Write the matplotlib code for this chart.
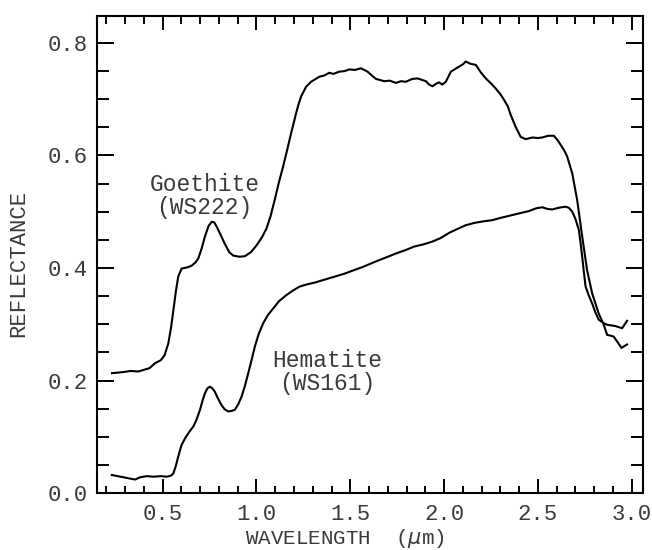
import matplotlib
matplotlib.use("Agg")
import matplotlib.pyplot as plt
from matplotlib.ticker import MultipleLocator

FONT = "Liberation Mono"
TXT = "#3a3a3a"

# goethite (WS222) spectrum
goethite_wl = [0.23, 0.29, 0.33, 0.37, 0.40, 0.43, 0.46, 0.49, 0.51, 0.53, 0.545, 0.557,
               0.57, 0.583, 0.601, 0.63, 0.654, 0.675, 0.69, 0.708, 0.725, 0.745, 0.761,
               0.775, 0.787, 0.81, 0.831, 0.855, 0.876, 0.91, 0.938, 0.97, 1.0, 1.03, 1.053,
               1.075, 1.097, 1.12, 1.14, 1.165, 1.184, 1.2, 1.211, 1.225, 1.238, 1.264,
               1.291, 1.335, 1.36, 1.388, 1.41, 1.441, 1.47, 1.495, 1.525, 1.557, 1.592,
               1.615, 1.637, 1.66, 1.681, 1.71, 1.743, 1.77, 1.796, 1.83, 1.858, 1.885,
               1.903, 1.92, 1.938, 1.955, 1.973, 1.99, 2.009, 2.036, 2.06, 2.08, 2.1, 2.115,
               2.14, 2.169, 2.195, 2.222, 2.25, 2.275, 2.3, 2.319, 2.34, 2.355, 2.381,
               2.408, 2.435, 2.47, 2.5, 2.523, 2.555, 2.585, 2.605, 2.621, 2.64, 2.656,
               2.683, 2.709, 2.736, 2.762, 2.789, 2.824, 2.85, 2.869, 2.885, 2.904, 2.925,
               2.945, 2.975]
goethite_refl = [0.213, 0.215, 0.217, 0.216, 0.219, 0.222, 0.231, 0.236, 0.245, 0.266, 0.295,
                 0.325, 0.358, 0.385, 0.399, 0.401, 0.404, 0.410, 0.417, 0.435, 0.456, 0.475,
                 0.482, 0.481, 0.474, 0.458, 0.443, 0.428, 0.422, 0.420, 0.421, 0.428, 0.440,
                 0.455, 0.470, 0.492, 0.521, 0.553, 0.578, 0.612, 0.639, 0.660, 0.675, 0.692,
                 0.705, 0.722, 0.731, 0.740, 0.742, 0.747, 0.745, 0.749, 0.750, 0.753, 0.752,
                 0.755, 0.749, 0.742, 0.736, 0.734, 0.732, 0.733, 0.729, 0.732, 0.731, 0.736,
                 0.737, 0.734, 0.732, 0.726, 0.723, 0.727, 0.730, 0.726, 0.731, 0.749, 0.754,
                 0.758, 0.762, 0.767, 0.763, 0.761, 0.748, 0.737, 0.728, 0.719, 0.709, 0.699,
                 0.687, 0.672, 0.651, 0.633, 0.629, 0.632, 0.631, 0.632, 0.635, 0.635, 0.627,
                 0.619, 0.609, 0.598, 0.568, 0.521, 0.456, 0.396, 0.355, 0.319, 0.300, 0.281,
                 0.280, 0.278, 0.268, 0.258, 0.264]

# hematite (WS161) spectrum
hematite_wl = [0.229, 0.26, 0.291, 0.32, 0.353, 0.38, 0.415, 0.45, 0.49, 0.521, 0.545, 0.557,
               0.57, 0.583, 0.60, 0.619, 0.64, 0.663, 0.68, 0.699, 0.713, 0.725, 0.738, 0.752,
               0.765, 0.778, 0.795, 0.814, 0.83, 0.849, 0.868, 0.885, 0.903, 0.92, 0.938,
               0.956, 0.975, 0.991, 1.012, 1.036, 1.06, 1.089, 1.12, 1.16, 1.195, 1.23, 1.27,
               1.31, 1.35, 1.39, 1.43, 1.47, 1.51, 1.568, 1.61, 1.654, 1.70, 1.745, 1.796,
               1.84, 1.89, 1.938, 1.98, 2.03, 2.075, 2.115, 2.16, 2.21, 2.257, 2.30, 2.35,
               2.399, 2.45, 2.49, 2.523, 2.55, 2.576, 2.61, 2.647, 2.665, 2.683, 2.70, 2.718,
               2.727, 2.736, 2.745, 2.754, 2.77, 2.789, 2.805, 2.824, 2.845, 2.869, 2.91,
               2.949, 2.975]
hematite_refl = [0.032, 0.030, 0.028, 0.026, 0.024, 0.028, 0.030, 0.029, 0.030, 0.029, 0.031,
                 0.035, 0.048, 0.065, 0.085, 0.097, 0.108, 0.118, 0.130, 0.148, 0.165, 0.177,
                 0.186, 0.189, 0.186, 0.180, 0.168, 0.156, 0.149, 0.145, 0.146, 0.148, 0.158,
                 0.171, 0.190, 0.213, 0.238, 0.260, 0.283, 0.302, 0.316, 0.328, 0.341, 0.352,
                 0.360, 0.367, 0.371, 0.374, 0.378, 0.382, 0.386, 0.390, 0.395, 0.402, 0.408,
                 0.414, 0.420, 0.426, 0.432, 0.438, 0.442, 0.447, 0.453, 0.463, 0.470, 0.476,
                 0.480, 0.483, 0.485, 0.489, 0.493, 0.497, 0.501, 0.506, 0.508, 0.505, 0.504,
                 0.507, 0.509, 0.507, 0.500, 0.487, 0.468, 0.445, 0.420, 0.392, 0.367, 0.352,
                 0.337, 0.322, 0.308, 0.303, 0.299, 0.297, 0.293, 0.306]

fig = plt.figure(figsize=(6.52, 5.5), dpi=100)
ax = fig.add_axes([0.1488, 0.1036, 0.8374, 0.8674])

ax.plot(goethite_wl, goethite_refl, color="black", lw=1.5)
ax.plot(hematite_wl, hematite_refl, color="black", lw=1.5)

ax.set_xlim(0.15, 3.06)
ax.set_ylim(0.0, 0.848)

ax.xaxis.set_major_locator(MultipleLocator(0.5))
ax.xaxis.set_minor_locator(MultipleLocator(0.1))
ax.yaxis.set_major_locator(MultipleLocator(0.2))
ax.yaxis.set_minor_locator(MultipleLocator(0.05))
ax.xaxis.set_major_formatter(lambda v, p: f"{v:.1f}")
ax.yaxis.set_major_formatter(lambda v, p: f"{v:.1f}")

ax.tick_params(which="both", direction="in", top=True, right=True, width=1.4, color="black")
ax.tick_params(axis="x", which="major", length=10, pad=8)
ax.tick_params(axis="x", which="minor", length=5.4)
ax.tick_params(axis="y", which="major", length=12, pad=7)
ax.tick_params(axis="y", which="minor", length=8.5)
for lab in ax.get_xticklabels() + ax.get_yticklabels():
    lab.set_fontfamily(FONT)
    lab.set_fontsize(16)
    lab.set_color(TXT)
for sp in ax.spines.values():
    sp.set_linewidth(1.5)

fig.text(345 / 652, 1 - 538 / 550, "WAVELENGTH  ($\\mu$m)", family=FONT, fontsize=15,
         color=TXT, ha="center", va="center")
fig.text(19 / 652, 1 - 263 / 550, "REFLECTANCE", family=FONT, fontsize=16,
         color=TXT, ha="center", va="center", rotation=90)

ax.text(0.723, 0.528, "Goethite\n(WS222)", family=FONT, fontsize=16.5, color=TXT,
        ha="center", va="center", multialignment="center", linespacing=1.0)
ax.text(1.378, 0.215, "Hematite\n(WS161)", family=FONT, fontsize=16.5, color=TXT,
        ha="center", va="center", multialignment="center", linespacing=1.0)

fig.savefig("out.png", dpi=100)
